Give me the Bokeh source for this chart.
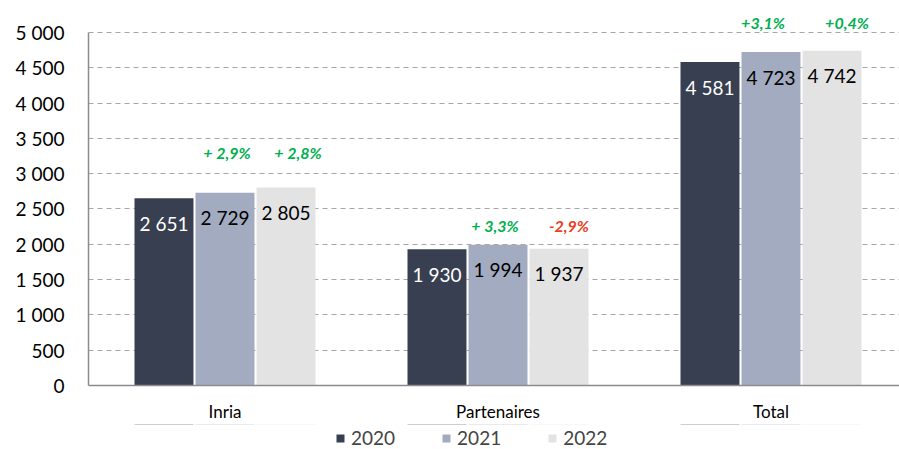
from bokeh.plotting import figure
from bokeh.layouts import column
from bokeh.models import (ColumnDataSource, Legend, LegendItem, Range1d, Grid,
                          FixedTicker, CustomJSTickFormatter)
from bokeh.core.properties import value
from bokeh.transform import dodge
from bokeh.embed import file_html
from bokeh.resources import INLINE

# ---------------- data ----------------
categories = ["Inria", "Partenaires", "Total"]
years = ["2020", "2021", "2022"]
v2020 = [2651, 1930, 4581]
v2021 = [2729, 1994, 4723]
v2022 = [2805, 1937, 4742]
pct_2021 = ["+ 2,9%", "+ 3,3%", "+3,1%"]
pct_2022 = ["+ 2,8%", "-2,9%", "+0,4%"]
y_ticks = [0, 500, 1000, 1500, 2000, 2500, 3000, 3500, 4000, 4500, 5000]

# ---------------- style / layout ----------------
bar_colors = ["#373F51", "#A2ABBF", "#E3E3E3"]
value_text_colors = ["#FFFFFF", "#000000", "#000000"]
GREEN = "#00B050"
RED = "#E8401C"
FONT = "Lato"
DODGE = 0.2235
BAR_W = 0.216
Y_MAX = 5000
Y_TOP = 5453                            # headroom above the 5 000 line for the % labels
pct_level = [3300, 2270, 5140]          # vertical level of the % annotations per group
pct_shift_2021 = [2, -3, -8]            # small horizontal nudges (px)
pct_shift_2022 = [12, 10, 15]

xs = [i + 0.5 for i in range(len(categories))]

def fmt(v):
    return f"{v:,}".replace(",", " ")

src = ColumnDataSource(dict(
    x=xs,
    v2020=v2020, v2021=v2021, v2022=v2022,
    t2020=[fmt(v) for v in v2020],
    t2021=[fmt(v) for v in v2021],
    t2022=[fmt(v) for v in v2022],
))

W = 899
p = figure(width=W, height=424, output_backend="svg", toolbar_location=None,
           x_range=Range1d(0, 811 / 273), y_range=Range1d(0, Y_TOP),
           min_border_left=88, min_border_right=0, min_border_top=0,
           min_border_bottom=39)
p.outline_line_color = None
p.background_fill_color = "white"
p.border_fill_color = "white"

# grid
p.xgrid.grid_line_color = None
p.ygrid.ticker = FixedTicker(ticks=y_ticks)
p.ygrid.grid_line_color = "#A6A6A6"
p.ygrid.grid_line_dash = "5 4"
p.ygrid.grid_line_width = 1

# axes
p.yaxis.ticker = FixedTicker(ticks=y_ticks)
p.yaxis.bounds = (0, Y_MAX)
p.yaxis.formatter = CustomJSTickFormatter(
    code="return tick.toString().replace(/\\B(?=(\\d{3})+(?!\\d))/g, ' ');")
p.xaxis.ticker = FixedTicker(ticks=xs)
p.xaxis.major_label_overrides = {x: c for x, c in zip(xs, categories)}
for ax in (p.xaxis, p.yaxis):
    ax.axis_line_color = "#8C8C8C"
    ax.axis_line_width = 1.5
    ax.major_tick_line_color = None
    ax.major_tick_out = 0
    ax.major_tick_in = 0
    ax.minor_tick_line_color = None
    ax.minor_tick_out = 0
    ax.major_label_text_font = FONT
    ax.major_label_text_color = "#000000"
p.yaxis.major_label_text_font_size = "19px"
p.yaxis.major_label_standoff = 24
p.xaxis.major_label_text_font_size = "17px"
p.xaxis.major_label_standoff = 15

# bars
offsets = [-DODGE, 0, DODGE]
cols = ["v2020", "v2021", "v2022"]
tcols = ["t2020", "t2021", "t2022"]
for off, col, tcol, bc, tc in zip(offsets, cols, tcols, bar_colors, value_text_colors):
    p.vbar(x=dodge("x", off, range=p.x_range), top=col, width=BAR_W, source=src,
           fill_color=bc, line_color=None)
    p.text(x=dodge("x", off, range=p.x_range), y=col, text=tcol, source=src,
           text_align="center", text_baseline="middle", y_offset=25,
           text_font=value(FONT), text_font_size="19px", text_color=tc)

# percentage annotations
for off, pcts, shifts in ((0, pct_2021, pct_shift_2021),
                          (DODGE, pct_2022, pct_shift_2022)):
    s = ColumnDataSource(dict(
        x=[x + off for x in xs], y=pct_level, t=pcts, dx=shifts,
        c=[RED if t.strip().startswith("-") else GREEN for t in pcts]))
    p.text(x="x", y="y", text="t", source=s, x_offset="dx",
           text_align="center", text_baseline="middle",
           text_font=value(FONT), text_font_size="16px",
           text_font_style="bold italic", text_color="c")

# legend strip (separate small figure below the chart; its frame is aligned with the chart's)
lp = figure(width=W, height=25, output_backend="svg", toolbar_location=None,
            x_range=Range1d(0, 811 / 273), y_range=Range1d(-2, -1),
            x_axis_location=None, y_axis_location=None,
            min_border=0)
lp.outline_line_color = None
for g in lp.select(type=Grid):
    g.visible = False
    g.grid_line_color = None
lp.background_fill_color = "white"
lp.border_fill_color = "white"
lrs = []
for off, col, bc in zip(offsets, cols, bar_colors):
    # zero-height proxy renderers from the same data, used only for the legend swatches
    lrs.append(lp.vbar(x=dodge("x", off, range=lp.x_range), top=col, bottom=col,
                       width=BAR_W, source=src, fill_color=bc, line_color=None))
legend = Legend(items=[LegendItem(label=y, renderers=[r], index=0) for y, r in zip(years, lrs)],
                orientation="horizontal", location=(247, 0),
                glyph_width=10, glyph_height=10, label_standoff=6, spacing=46,
                padding=0, margin=0, border_line_color=None,
                background_fill_alpha=0, label_text_font=FONT,
                label_text_font_size="19px", label_height=18)
lp.add_layout(legend)

layout = column(p, lp, spacing=0)
open("out.html", "w").write(file_html(layout, INLINE))
